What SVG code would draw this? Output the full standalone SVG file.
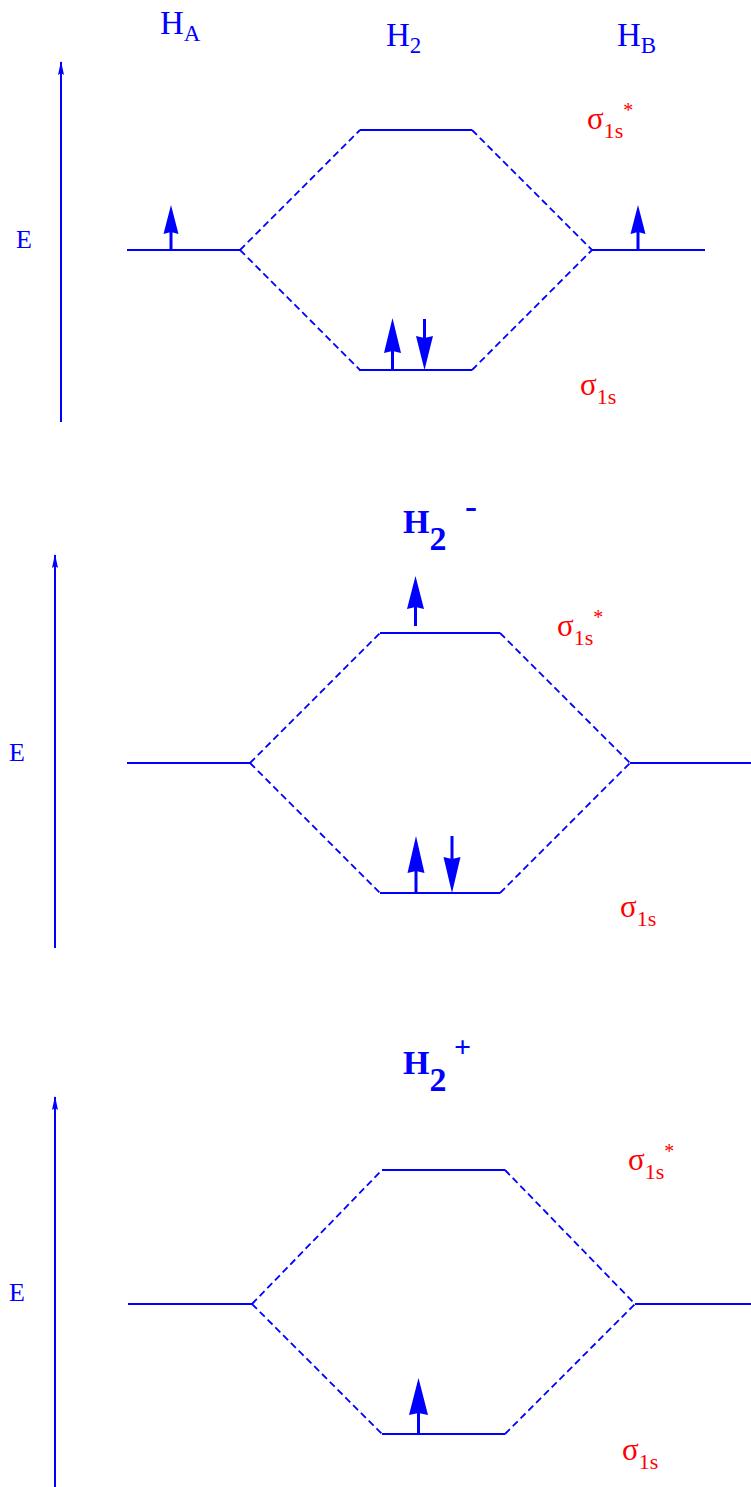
<svg xmlns="http://www.w3.org/2000/svg" width="751" height="1487" viewBox="0 0 751 1487">
<defs>
<marker id="ax" markerWidth="8" markerHeight="16" refX="4" refY="1" orient="0" markerUnits="userSpaceOnUse"><path d="M4,0 L7,14 L4,12 L1,14 Z" fill="#0000ff"/></marker>
</defs>
<style>
.lv{stroke:#0000ff;stroke-width:2;fill:none}
.ds{stroke:#0000ff;stroke-width:1.8;stroke-dasharray:7,4;fill:none}
.axis{stroke:#0000ff;stroke-width:2;fill:none}
.sh{stroke:#0000ff;stroke-width:3;fill:none}
.hd{fill:#0000ff}
.bl{font-family:"Liberation Serif",serif;fill:#0000ff}
.rd{font-family:"Liberation Serif",serif;fill:#ff0000}
.ttl{font-family:"Liberation Serif",serif;fill:#0000ff;font-weight:bold}
</style>
<rect width="751" height="1487" fill="#ffffff"/>

<!-- Panel 1 -->
<g id="labels1">
<text class="bl" x="160" y="34" font-size="33">H<tspan font-size="23" dy="7">A</tspan></text>
<text class="bl" x="386" y="46" font-size="33">H<tspan font-size="23" dy="7">2</tspan></text>
<text class="bl" x="617" y="46" font-size="33">H<tspan font-size="23" dy="7">B</tspan></text>
</g>
<g id="axis1"><line class="axis" x1="61" y1="422" x2="61" y2="62" marker-end="url(#ax)"/><text class="bl" x="16" y="248" font-size="26">E</text></g>
<g id="ao-a1"><line class="lv" x1="127" y1="250" x2="240" y2="250"/><line class="sh" x1="171" y1="250" x2="171" y2="230"/><path class="hd" d="M171,205 L178.5,234 L171,232 L163.5,234 Z"/></g>
<g id="ao-b1"><line class="lv" x1="592" y1="250" x2="705" y2="250"/><line class="sh" x1="638" y1="250" x2="638" y2="230"/><path class="hd" d="M638,205 L645.5,234 L638,232 L630.5,234 Z"/></g>
<g id="mo-star1"><line class="lv" x1="360" y1="130" x2="472" y2="130"/><text class="rd" x="587" y="129" font-size="31">σ<tspan font-size="22" dy="9">1s</tspan><tspan font-size="20" dy="-21.5">*</tspan></text></g>
<g id="mo-sig1"><line class="lv" x1="359" y1="370" x2="472" y2="370"/><line class="sh" x1="392.5" y1="370" x2="392.5" y2="348"/><path class="hd" d="M392.5,318 L401,353 L392.5,351 L384,353 Z"/><line class="sh" x1="424.5" y1="319" x2="424.5" y2="340"/><path class="hd" d="M424.5,370 L433,336 L424.5,338 L416,336 Z"/><text class="rd" x="580" y="395" font-size="31">σ<tspan font-size="22" dy="9">1s</tspan></text></g>
<g id="conn1">
<path class="ds" d="M240,250 L360,130 M240,250 L360,370 M472,130 L592,250 M472,370 L592,250"/>
</g>

<!-- Panel 2 -->
<g id="title2"><text class="ttl" x="403" y="533" font-size="34">H<tspan font-size="34" dy="17">2</tspan><tspan font-size="36" x="465" y="518">-</tspan></text></g>
<g id="axis2"><line class="axis" x1="55" y1="948" x2="55" y2="555" marker-end="url(#ax)"/><text class="bl" x="9" y="761" font-size="26">E</text></g>
<g id="ao-a2"><line class="lv" x1="127" y1="763" x2="250" y2="763"/></g>
<g id="ao-b2"><line class="lv" x1="630" y1="763" x2="751" y2="763"/></g>
<g id="mo-star2"><line class="lv" x1="380" y1="633" x2="500" y2="633"/><line class="sh" x1="415.5" y1="626" x2="415.5" y2="604"/><path class="hd" d="M415.5,576 L424,609 L415.5,607 L407,609 Z"/><text class="rd" x="557" y="636" font-size="31">σ<tspan font-size="22" dy="9">1s</tspan><tspan font-size="20" dy="-21.5">*</tspan></text></g>
<g id="mo-sig2"><line class="lv" x1="380" y1="893" x2="500" y2="893"/><line class="sh" x1="416" y1="893" x2="416" y2="870"/><path class="hd" d="M416,836 L424.5,873 L416,871 L407.5,873 Z"/><line class="sh" x1="452" y1="836" x2="452" y2="860"/><path class="hd" d="M452,893 L460.5,857 L452,859 L443.5,857 Z"/><text class="rd" x="620" y="917" font-size="31">σ<tspan font-size="22" dy="9">1s</tspan></text></g>
<g id="conn2">
<path class="ds" d="M250,763 L380,633 M250,763 L380,893 M500,633 L630,763 M500,893 L630,763"/>
</g>

<!-- Panel 3 -->
<g id="title3"><text class="ttl" x="403" y="1074" font-size="34">H<tspan font-size="34" dy="17">2</tspan><tspan font-size="30" x="454" y="1057">+</tspan></text></g>
<g id="axis3"><line class="axis" x1="55" y1="1487" x2="55" y2="1097" marker-end="url(#ax)"/><text class="bl" x="9" y="1301" font-size="26">E</text></g>
<g id="ao-a3"><line class="lv" x1="128" y1="1304" x2="252" y2="1304"/></g>
<g id="ao-b3"><line class="lv" x1="635" y1="1304" x2="751" y2="1304"/></g>
<g id="mo-star3"><line class="lv" x1="382" y1="1170" x2="505" y2="1170"/><text class="rd" x="628" y="1170" font-size="31">σ<tspan font-size="22" dy="9">1s</tspan><tspan font-size="20" dy="-21.5">*</tspan></text></g>
<g id="mo-sig3"><line class="lv" x1="382" y1="1434" x2="505" y2="1434"/><line class="sh" x1="418.5" y1="1434" x2="418.5" y2="1410"/><path class="hd" d="M418.5,1378 L428,1415 L418.5,1413 L409,1415 Z"/><text class="rd" x="622" y="1460" font-size="31">σ<tspan font-size="22" dy="9">1s</tspan></text></g>
<g id="conn3">
<path class="ds" d="M252,1304 L382,1170 M252,1304 L382,1434 M505,1170 L635,1304 M505,1434 L635,1304"/>
</g>
</svg>
